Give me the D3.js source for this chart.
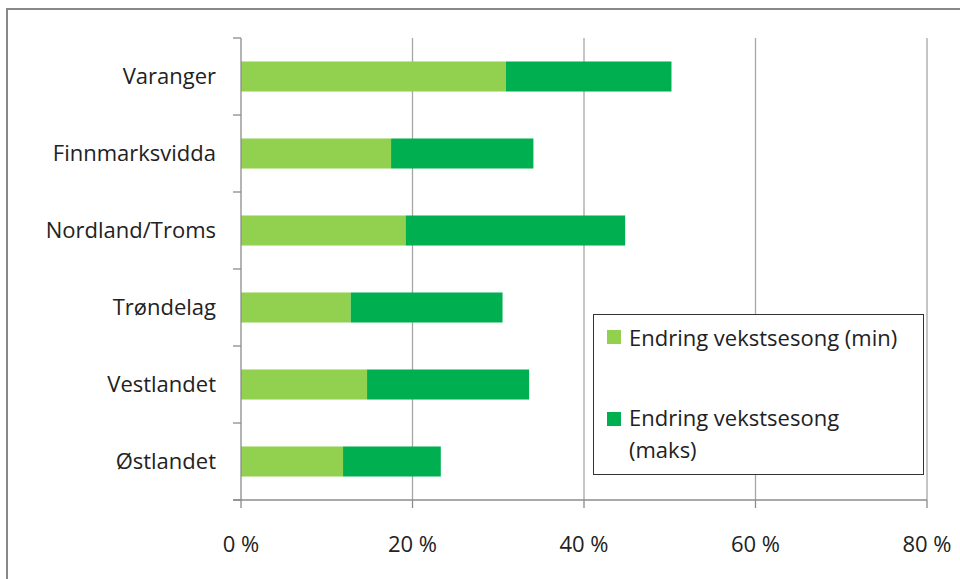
<!DOCTYPE html>
<html><head><meta charset="utf-8">
<script src="https://cdn.jsdelivr.net/npm/d3@7"></script>
<style>body{margin:0;background:#fff}svg{display:block}text{font-family:"Open Sans",Lato,sans-serif;fill:#222}</style>
</head><body><svg id="c" width="960" height="579"></svg>
<script>
const categories = ["Varanger","Finnmarksvidda","Nordland/Troms","Trøndelag","Vestlandet","Østlandet"];
const minValues = [30.9, 17.5, 19.2, 12.8, 14.7, 11.9];
const maksValues = [50.2, 34.1, 44.8, 30.5, 33.6, 23.3];
const xTicks = [0, 20, 40, 60, 80];
const seriesNames = ["Endring vekstsesong (min)", "Endring vekstsesong (maks)"];
const colors = ["#92D050", "#00B050"];

const FS = 22;
const svg = d3.select("#c");
// outer frame
svg.append("rect").attr("x",7).attr("y",9).attr("width",1000).attr("height",600)
  .attr("fill","none").attr("stroke","#888").attr("stroke-width",2);

const x = d3.scaleLinear().domain([0,80]).range([241,927]);
const y = d3.scaleBand().domain(categories).range([38,500]).paddingInner(0.61).paddingOuter(0.305);

// gridlines
svg.append("g").selectAll("line").data(xTicks.slice(1)).join("line")
  .attr("x1",d=>x(d)).attr("x2",d=>x(d)).attr("y1",38).attr("y2",500)
  .attr("stroke","#a6a6a6").attr("stroke-width",1.3);

// bars
svg.append("g").selectAll("rect").data(categories).join("rect")
  .attr("x",x(0)).attr("y",d=>y(d)).attr("height",y.bandwidth())
  .attr("width",(d,i)=>x(minValues[i])-x(0)).attr("fill",colors[0]);
svg.append("g").selectAll("rect").data(categories).join("rect")
  .attr("x",(d,i)=>x(minValues[i])).attr("y",d=>y(d)).attr("height",y.bandwidth())
  .attr("width",(d,i)=>x(maksValues[i])-x(minValues[i])).attr("fill",colors[1]);

// y axis
const yStep = (500-38)/categories.length;
const ya = svg.append("g");
ya.append("line").attr("x1",241).attr("x2",241).attr("y1",38).attr("y2",500).attr("stroke","#8c8c8c").attr("stroke-width",1.3);
ya.selectAll("line.t").data(d3.range(categories.length+1)).join("line").attr("class","t")
  .attr("x1",233).attr("x2",241).attr("y1",i=>38+i*yStep).attr("y2",i=>38+i*yStep)
  .attr("stroke","#8c8c8c").attr("stroke-width",1.3);
ya.selectAll("text").data(categories).join("text")
  .attr("x",216).attr("y",d=>y(d)+y.bandwidth()/2).attr("dy","0.35em")
  .attr("text-anchor","end").attr("font-size",FS).text(d=>d);

// x axis
const xa = svg.append("g");
xa.append("line").attr("x1",233).attr("x2",927).attr("y1",500).attr("y2",500).attr("stroke","#8c8c8c").attr("stroke-width",1.3);
xa.selectAll("line.t").data(xTicks).join("line").attr("class","t")
  .attr("x1",d=>x(d)).attr("x2",d=>x(d)).attr("y1",500).attr("y2",508)
  .attr("stroke","#8c8c8c").attr("stroke-width",1.3);
xa.selectAll("text").data(xTicks).join("text")
  .attr("x",d=>x(d)).attr("y",544).attr("dy","0.35em").attr("text-anchor","middle")
  .attr("font-size",FS).text(d=>d+" %");

// legend
const lg = svg.append("g");
lg.append("rect").attr("x",593.5).attr("y",314.5).attr("width",330).attr("height",160)
  .attr("fill","#fff").attr("stroke","#333").attr("stroke-width",1);
lg.append("rect").attr("x",607).attr("y",330).attr("width",14).attr("height",14).attr("fill",colors[0]);
lg.append("rect").attr("x",607).attr("y",412).attr("width",14).attr("height",14).attr("fill",colors[1]);
lg.append("text").attr("x",629).attr("y",338).attr("dy","0.35em").attr("font-size",FS).text(seriesNames[0]);
lg.append("text").attr("x",629).attr("y",418).attr("dy","0.35em").attr("font-size",FS).text("Endring vekstsesong");
lg.append("text").attr("x",629).attr("y",450).attr("dy","0.35em").attr("font-size",FS).text("(maks)");
</script></body></html>
